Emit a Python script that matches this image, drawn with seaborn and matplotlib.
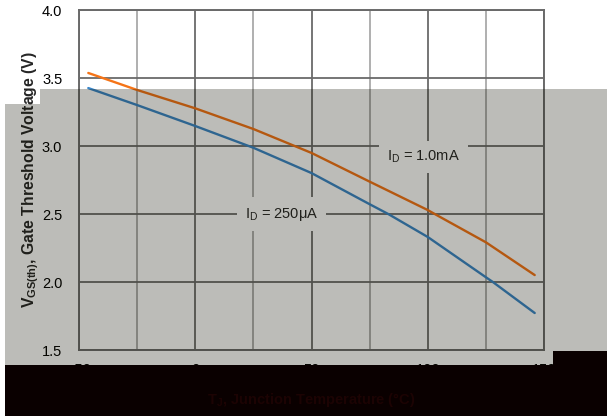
import numpy as np
import pandas as pd
import matplotlib
matplotlib.use("Agg")
import matplotlib.pyplot as plt
from matplotlib.patches import Polygon
import seaborn as sns

# ---- data ----
temp_1ma = [-46, -25, 0, 25, 50, 75, 100, 103, 125, 146]
vth_1ma = [3.537, 3.412, 3.277, 3.125, 2.949, 2.738, 2.529, 2.50, 2.292, 2.051]
temp_250ua = [-46, -25, 0, 25, 50, 75, 83, 100, 125, 128, 146]
vth_250ua = [3.426, 3.301, 3.147, 2.987, 2.801, 2.572, 2.50, 2.331, 2.035, 2.00, 1.772]
series_names = ["1.0mA", "250uA"]
x_ticks = [-50, 0, 50, 100, 150]
x_minor = [-25, 25, 75, 125]
y_ticks = [1.5, 2.0, 2.5, 3.0, 3.5, 4.0]

df = pd.concat([
    pd.DataFrame({"T": temp_1ma, "V": vth_1ma, "s": series_names[0]}),
    pd.DataFrame({"T": temp_250ua, "V": vth_250ua, "s": series_names[1]}),
])

sns.set_style("white")
plt.rcParams["font.family"] = ["Liberation Sans", "DejaVu Sans"]
plt.rcParams["mathtext.fontset"] = "custom"
plt.rcParams["mathtext.rm"] = "Liberation Sans"
plt.rcParams["mathtext.bf"] = "Liberation Sans:bold"
plt.rcParams["mathtext.it"] = "Liberation Sans:italic"

W, H = 607, 416
fig = plt.figure(figsize=(W / 100, H / 100), dpi=100)
fig.patch.set_facecolor("white")
ax = fig.add_axes([79 / W, 1 - 350 / H, (544 - 79) / W, (350 - 10) / H])
ax.set_facecolor("white")

sns.lineplot(data=df, x="T", y="V", hue="s", sort=True,
             palette={series_names[0]: "#f57417", series_names[1]: "#3a86c8"},
             linewidth=1.7, legend=False, ax=ax, zorder=3)

ax.set_xlim(-50, 150)
ax.set_ylim(1.5, 4.0)
ax.set_xticks(x_ticks)
ax.set_xticks(x_minor, minor=True)
ax.set_yticks(y_ticks)
ax.set_yticklabels([f"{v:.1f}" for v in y_ticks])
ax.tick_params(axis="both", which="both", length=0, labelsize=10.5, colors="black")
ax.tick_params(axis="y", pad=12)
ax.tick_params(axis="x", pad=9)
ax.grid(True, which="major", color="#6a6a6a", linewidth=1.3)
ax.grid(True, which="minor", axis="x", color="#9a9a9a", linewidth=1.1)
for sp in ax.spines.values():
    sp.set_color("#6a6a6a")
    sp.set_linewidth(1.4)

ax.set_xlabel("")
ax.set_ylabel(r"$\mathbf{V}_{\mathbf{GS(th)}}$, Gate Threshold Voltage (V)",
              fontsize=11.3, fontweight="bold", labelpad=1)

bb = dict(boxstyle="square,pad=0.55", fc="white", ec="none")
ax.text(98, 2.92, r"$\mathrm{I_D}$ = 1.0mA", fontsize=10.5, ha="center", va="center",
        bbox=bb, zorder=4)
ax.text(37, 2.5, "$\\mathrm{I_D}$ = 250\u03bcA", fontsize=10.5, ha="center", va="center",
        bbox=bb, zorder=4)


def fpts(pts):
    return [(x / W, 1 - y / H) for x, y in pts]


gray = Polygon(fpts([(5, 104), (40, 104), (40, 89), (607, 89), (607, 365), (5, 365)]),
               closed=True, transform=fig.transFigure, fc=(16 / 255, 16 / 255, 0),
               alpha=0.28, ec="none", zorder=5)
fig.add_artist(gray)

black = Polygon(fpts([(5, 365), (553, 365), (553, 351), (607, 351), (607, 416), (5, 416)]),
                closed=True, transform=fig.transFigure, fc="#0a0000", ec="none", zorder=10)
fig.add_artist(black)

fig.text(311 / W, 1 - 400 / H, r"$\mathbf{T_J}$, Junction Temperature (°C)",
         fontsize=10.5, fontweight="bold", color="#1c0303", ha="center", va="center",
         zorder=11)

fig.savefig("out.png", dpi=100)
